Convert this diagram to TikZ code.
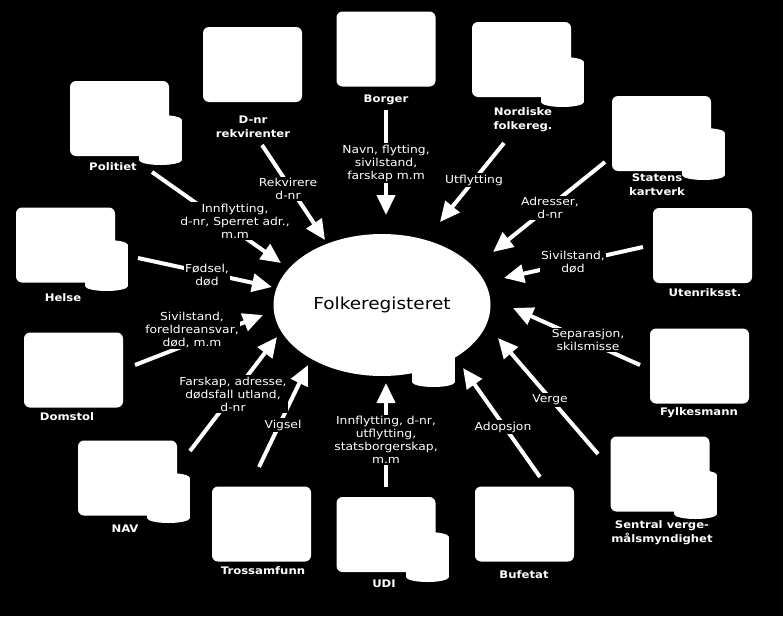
\documentclass[tikz,border=0pt]{standalone}
\usepackage{fontspec}
\setmainfont{DejaVu Sans}[FakeStretch=1.12]
\usetikzlibrary{arrows.meta,shapes.geometric}
\newcommand\dbcyl[3]{%
  \fill[white] (#1,#2+5) rectangle (#1+43,#3-5);
  \fill[white] (#1+21.5,#2+5) ellipse (21.5pt and 5pt);
  \fill[white] (#1+21.5,#3-5) ellipse (21.5pt and 5pt);}
\begin{document}
\begin{tikzpicture}[x=1pt,y=-1pt,
  orgbox/.style={fill=white, rounded corners=6pt, minimum width=99pt, minimum height=75pt, inner sep=0pt, draw=none},
  orgname/.style={text=white, font=\bfseries\fontsize{10.4}{14}\selectfont, align=center, inner sep=0pt},
  flowlbl/.style={text=white, fill=black, font=\fontsize{11}{13}\selectfont, align=center, inner sep=1.5pt},
  flow/.style={draw=white, line width=4pt, -{Triangle[length=20pt,width=18pt]}},
]
\fill[black] (0,0) rectangle (783,616);
\useasboundingbox (0,0) rectangle (783,616);

% central register
\dbcyl{412}{340}{387}
\node[ellipse, fill=white, minimum width=217pt, minimum height=142pt, inner sep=0pt,
      font=\fontsize{16.5}{18}\selectfont] (folk) at (382,305) {Folkeregisteret};

% boxes
\node[orgbox] (dnr) at (252.5,64.5) {};
\node[orgbox] (borger) at (386,49) {};
\node[orgbox] (nordiske) at (521.5,59.5) {};
\node[orgbox] (statens) at (661.5,133.5) {};
\node[orgbox] (utenriks) at (702.5,245.5) {};
\node[orgbox] (politiet) at (119.5,118.5) {};
\node[orgbox] (helse) at (65.5,245) {};
\node[orgbox] (domstol) at (73.5,370) {};
\node[orgbox] (nav) at (127.5,478) {};
\node[orgbox] (tross) at (261.5,524) {};
\node[orgbox] (udi) at (386,534.5) {};
\node[orgbox] (bufetat) at (524.5,524) {};
\node[orgbox] (sentral) at (660,474) {};
\node[orgbox] (fylkesmann) at (699.5,366) {};

% databases
\dbcyl{139}{115}{165}
\dbcyl{85}{240}{291}
\dbcyl{541}{57}{107}
\dbcyl{682}{128}{180}
\dbcyl{147}{473}{523}
\dbcyl{406}{532}{582}
\dbcyl{674}{470}{519}

% names
\node[orgname] (dnr-n) at (253,127) {D-nr\\rekvirenter};
\node[orgname] (borger-n) at (386,100) {Borger};
\node[orgname] (nordiske-n) at (523,120) {Nordiske\\folkereg.};
\node[orgname] (statens-n) at (657,185) {Statens\\kartverk};
\node[orgname] (utenriks-n) at (705,293) {Utenriksst.};
\node[orgname] (politiet-n) at (113,167) {Politiet};
\node[orgname] (helse-n) at (63,298) {Helse};
\node[orgname] (domstol-n) at (67,417) {Domstol};
\node[orgname] (nav-n) at (125,529) {NAV};
\node[orgname] (tross-n) at (263,571) {Trossamfunn};
\node[orgname] (udi-n) at (384,584) {UDI};
\node[orgname] (bufetat-n) at (524,575) {Bufetat};
\node[orgname] (sentral-n) at (662,533) {Sentral verge-\\målsmyndighet};
\node[orgname] (fylkesmann-n) at (699,413) {Fylkesmann};

% connector ends
\coordinate (dnr-o) at (262,145);      \coordinate (dnr-i) at (325,240);
\coordinate (borger-o) at (386,110);   \coordinate (borger-i) at (386,215);
\coordinate (nordiske-o) at (504,143); \coordinate (nordiske-i) at (440,222);
\coordinate (statens-o) at (605,162);  \coordinate (statens-i) at (493,252);
\coordinate (utenriks-o) at (643,247); \coordinate (utenriks-i) at (504,278);
\coordinate (politiet-o) at (152,172); \coordinate (politiet-i) at (281,263);
\coordinate (helse-o) at (138,258);    \coordinate (helse-i) at (272,287);
\coordinate (domstol-o) at (135,365);  \coordinate (domstol-i) at (263,315);
\coordinate (nav-o) at (190,451);      \coordinate (nav-i) at (277,337);
\coordinate (tross-o) at (259,467);    \coordinate (tross-i) at (308,365);
\coordinate (udi-o) at (386,487);      \coordinate (udi-i) at (386,383);
\coordinate (bufetat-o) at (540,477);  \coordinate (bufetat-i) at (463,368);
\coordinate (sentral-o) at (598,454);  \coordinate (sentral-i) at (498,338);
\coordinate (fylkesmann-o) at (640,365); \coordinate (fylkesmann-i) at (513,308);

\foreach \s in {dnr,borger,nordiske,statens,utenriks,politiet,helse,domstol,nav,tross,udi,bufetat,sentral,fylkesmann}
  \draw[flow] (\s-o) -- (\s-i);

% flow labels
\node[flowlbl] (l-dnr) at (288,189) {Rekvirere\\d-nr};
\node[flowlbl] (l-borger) at (386,163) {Navn, flytting,\\sivilstand,\\farskap m.m};
\node[flowlbl] (l-nordiske) at (474,180) {Utflytting};
\node[flowlbl] (l-statens) at (550,208) {Adresser,\\d-nr};
\node[flowlbl] (l-utenriks) at (573,262) {Sivilstand,\\død};
\node[flowlbl] (l-politiet) at (235,221) {Innflytting,\\d-nr, Sperret adr.,\\m.m};
\node[flowlbl] (l-helse) at (207,275) {Fødsel,\\død};
\node[flowlbl] (l-domstol) at (192,330) {Sivilstand,\\foreldreansvar,\\død, m.m};
\node[flowlbl] (l-nav) at (233,394) {Farskap, adresse,\\dødsfall utland,\\d-nr};
\node[flowlbl] (l-tross) at (283,425) {Vigsel};
\node[flowlbl] (l-udi) at (386,440) {Innflytting, d-nr,\\utflytting,\\statsborgerskap,\\m.m};
\node[flowlbl] (l-bufetat) at (503,427) {Adopsjon};
\node[flowlbl] (l-sentral) at (550,400) {Verge};
\node[flowlbl] (l-fylkesmann) at (588,340) {Separasjon,\\skilsmisse};
\end{tikzpicture}
\end{document}
